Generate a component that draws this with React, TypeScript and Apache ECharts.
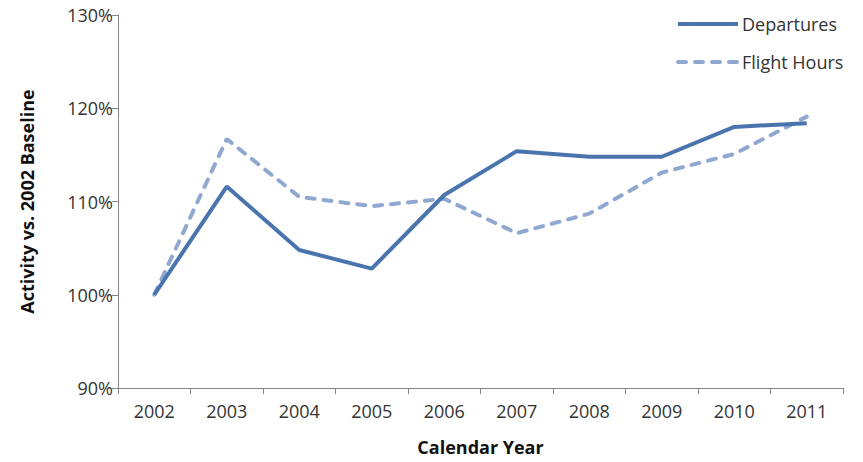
import React, { useEffect, useRef } from "react";
import * as echarts from "echarts";

const years = ["2002", "2003", "2004", "2005", "2006", "2007", "2008", "2009", "2010", "2011"];
const departures = [100, 111.6, 104.8, 102.8, 110.7, 115.4, 114.8, 114.8, 118.0, 118.4];
const flightHours = [100, 116.7, 110.5, 109.5, 110.3, 106.6, 108.7, 113.1, 115.1, 119.1];

const FONT = "'Open Sans', 'Noto Sans', sans-serif";

export default function App() {
  const ref = useRef<HTMLDivElement>(null);
  useEffect(() => {
    if (!ref.current) return;
    const chart = echarts.init(ref.current, null, { renderer: "svg" });
    chart.setOption({
      animation: false,
      backgroundColor: "#ffffff",
      grid: { left: 118, right: 20, top: 15, bottom: 74 },
      legend: {
        orient: "vertical",
        left: 671,
        top: 10,
        itemWidth: 60,
        itemHeight: 22,
        itemGap: 20,
        itemStyle: { opacity: 0 },
        lineStyle: { width: 4 },
        textStyle: { fontFamily: FONT, fontSize: 18, color: "#333333", padding: [0, 0, 0, -1] },
        data: ["Departures", "Flight Hours"],
      },
      xAxis: {
        type: "category",
        data: years,
        boundaryGap: true,
        name: "Calendar Year",
        nameLocation: "middle",
        nameGap: 50,
        nameTextStyle: { fontFamily: FONT, fontSize: 18, fontWeight: "bold", color: "#111111" },
        axisLine: { lineStyle: { color: "#868686", width: 1 } },
        axisTick: { show: true, length: 6, alignWithLabel: false, lineStyle: { color: "#868686" } },
        axisLabel: { fontFamily: FONT, fontSize: 18, color: "#333333", margin: 14 },
      },
      yAxis: {
        type: "value",
        min: 90,
        max: 130,
        interval: 10,
        name: "Activity vs. 2002 Baseline",
        nameLocation: "middle",
        nameGap: 82,
        nameTextStyle: { fontFamily: FONT, fontSize: 18, fontWeight: "bold", color: "#111111" },
        axisLine: { show: true, lineStyle: { color: "#868686", width: 1 } },
        axisTick: { show: true, length: 6, lineStyle: { color: "#868686" } },
        splitLine: { show: false },
        axisLabel: {
          fontFamily: FONT,
          fontSize: 18,
          color: "#333333",
          margin: 5,
          formatter: (v: number) => v + "%",
        },
      },
      series: [
        {
          name: "Departures",
          type: "line",
          data: departures,
          showSymbol: false,
          symbol: "none",
          lineStyle: { color: "#4a74ad", width: 4 },
          itemStyle: { color: "#4a74ad" },
          z: 3,
        },
        {
          name: "Flight Hours",
          type: "line",
          data: flightHours,
          showSymbol: false,
          symbol: "none",
          lineStyle: { color: "#90a8d0", width: 4, type: [8, 9], cap: "round" },
          itemStyle: { color: "#90a8d0" },
          z: 2,
        },
      ],
    });
    return () => chart.dispose();
  }, []);
  return <div ref={ref} style={{ width: 863, height: 462, position: "absolute", left: 0, top: 0 }} />;
}
